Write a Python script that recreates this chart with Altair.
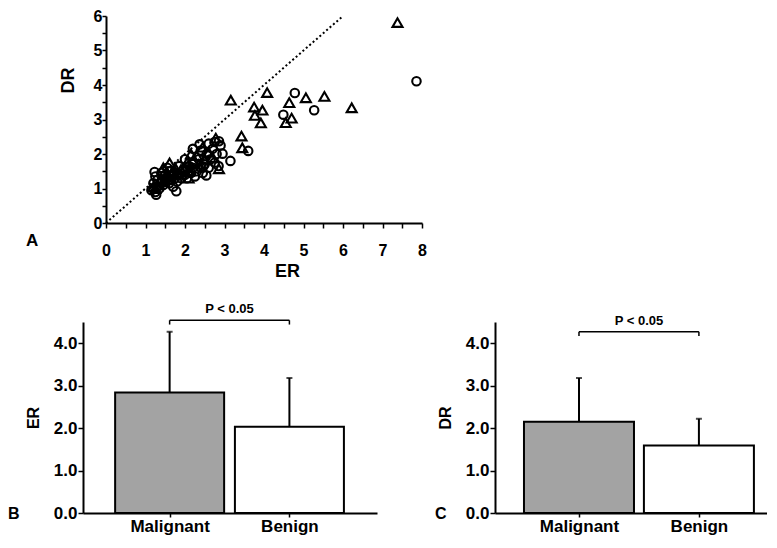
import altair as alt
import pandas as pd

FONT = "Liberation Sans"

# ---------------- Panel A data (ER vs DR) ----------------
mal_er = [7.38, 3.16, 4.08, 5.06, 5.53, 3.75, 3.96, 3.77, 3.92, 4.64, 4.70, 4.55, 6.22,
          3.43, 3.45, 2.78, 2.86, 2.09, 1.61,
          1.25, 1.30, 1.35, 1.40, 1.50, 1.55, 1.60, 1.70, 1.75, 1.80, 1.90, 2.00,
          2.05, 2.10, 2.20, 2.30, 2.35, 2.50, 2.60, 2.70, 1.45, 1.20, 2.15, 2.45]
mal_dr = [5.81, 3.56, 3.78, 3.63, 3.67, 3.36, 3.27, 3.12, 2.90, 3.49, 3.04, 2.91, 3.34,
          2.52, 2.18, 2.46, 1.57, 1.30, 1.74,
          1.00, 1.10, 1.20, 1.30, 1.25, 1.45, 1.35, 1.50, 1.60, 1.45, 1.55, 1.60,
          1.75, 1.50, 1.80, 1.95, 1.70, 1.85, 2.05, 1.90, 1.60, 1.05, 2.00, 2.20]

ben_er = [7.86, 4.78, 5.27, 4.49, 3.60, 3.15, 2.86, 2.37, 1.78, 1.23, 1.27, 2.54, 2.46, 2.95,
          1.15, 1.20, 1.25, 1.30, 1.20, 1.35, 1.40, 1.30, 1.45, 1.50,
          1.55, 1.60, 1.65, 1.70, 1.60, 1.75, 1.80, 1.85, 1.90, 1.95,
          2.00, 1.70, 1.50, 1.40, 1.25, 2.05, 2.10, 2.15, 2.20, 2.25,
          2.30, 2.35, 2.40, 2.45, 2.50, 2.55, 2.60, 2.65, 2.70, 2.75,
          2.80, 2.85, 2.90, 2.40, 2.20, 2.60, 2.00, 1.85, 1.55, 2.75]
ben_dr = [4.11, 3.77, 3.27, 3.14, 2.09, 1.80, 2.37, 2.28, 0.92, 1.48, 0.82, 1.38, 1.64, 2.01,
          0.95, 1.00, 0.90, 1.05, 1.15, 1.00, 1.15, 1.25, 1.10, 1.20,
          1.30, 1.15, 1.25, 1.40, 1.50, 1.30, 1.20, 1.40, 1.30, 1.50,
          1.40, 1.05, 1.40, 1.45, 1.35, 1.30, 1.65, 1.45, 1.60, 1.35,
          1.50, 1.85, 1.60, 1.45, 1.70, 2.00, 1.60, 1.85, 2.15, 1.75,
          2.00, 1.65, 2.25, 2.10, 2.15, 2.30, 1.85, 1.65, 1.60, 2.35]

legend_labels = ["Malignant (n = 43)", "Benign (n = 64)"]
identity_ends = [0, 6]

# ---------------- Panels B / C data ----------------
groups = ["Malignant", "Benign"]
group_idx = [0, 1]
er_mean = [2.84, 2.03]
er_upper = [4.27, 3.18]
dr_mean = [2.15, 1.59]
dr_upper = [3.18, 2.22]
er_bracket = 4.54
dr_bracket = 4.27
p_text = "P < 0.05"

bar_fills = ["#a3a3a3", "white"]

axis_style = dict(domainColor="black", domainWidth=2, tickColor="black", tickWidth=1.5,
                  grid=False, labelFont=FONT, labelFontWeight="bold", labelColor="black",
                  titleFont=FONT, titleFontWeight="bold", titleColor="black",
                  labelFlush=False, labelOverlap=False)

# ---------------- Panel A ----------------
scat_df = pd.DataFrame({
    "ER": mal_er + ben_er,
    "DR": mal_dr + ben_dr,
    "group": [legend_labels[0]] * len(mal_er) + [legend_labels[1]] * len(ben_er),
})
diag_df = pd.DataFrame({"ER": identity_ends, "DR": identity_ends})

x_vals = [i * 0.5 for i in range(17)]
y_vals = [i * 0.5 for i in range(13)]
int_only = "datum.value % 1 === 0 ? format(datum.value, 'd') : ''"

xs = alt.Scale(domain=[0, 8], nice=False)
ys = alt.Scale(domain=[0, 6], nice=False)

x_enc = alt.X("ER:Q", scale=xs, axis=alt.Axis(title="ER", values=x_vals, labelExpr=int_only,
              tickSize=5, labelPadding=14, labelFontSize=16, titleFontSize=18,
              titlePadding=4, titleX=181, **axis_style))
y_enc = alt.Y("DR:Q", scale=ys, axis=alt.Axis(title="DR", values=y_vals, labelExpr=int_only,
              tickSize=4, labelPadding=0, labelFontSize=16, titleFontSize=18,
              titlePadding=16, titleY=64, **axis_style))

diag = alt.Chart(diag_df).mark_line(color="black", strokeDash=[2, 2.5], strokeWidth=2).encode(
    x=x_enc, y=y_enc)

points = alt.Chart(scat_df).mark_point(filled=False, color="black", strokeWidth=2.1,
                                       opacity=1).encode(
    x=x_enc, y=y_enc,
    shape=alt.Shape("group:N",
                    scale=alt.Scale(domain=legend_labels, range=["triangle-up", "circle"]),
                    legend=alt.Legend(title=None, orient="none", legendX=392, legendY=62,
                                      labelFont=FONT, labelFontWeight="bold", labelFontSize=13.5,
                                      labelColor="black", symbolSize=70, symbolStrokeWidth=1.8,
                                      symbolStrokeColor="black", symbolFillColor="transparent",
                                      rowPadding=12, labelOffset=10, padding=0)),
    size=alt.Size("group:N", scale=alt.Scale(domain=legend_labels, range=[100, 72]),
                  legend=None),
)

label_a = alt.Chart(pd.DataFrame({"t": ["A"]})).mark_text(
    font=FONT, fontWeight="bold", fontSize=17, align="left", baseline="alphabetic",
    color="black").encode(text="t:N", x=alt.value(-80), y=alt.value(230))

panel_a = alt.layer(diag, points, label_a).properties(width=316, height=207)

spacer = alt.Chart(pd.DataFrame({"v": [0]})).mark_text().encode(
    x=alt.value(0), y=alt.value(0), text=alt.value("")).properties(width=23, height=10)


# ---------------- Panels B / C ----------------
def bar_panel(title, means, uppers, bracket_y, letter, width, x_domain, bar_w, letter_x):
    df = pd.DataFrame({"idx": group_idx, "group": groups, "mean": means, "upper": uppers})
    label_expr = "[" + ",".join("'%s'" % g for g in groups) + "][datum.value]"
    xsc = alt.Scale(domain=x_domain, nice=False, zero=False)
    ysc = alt.Scale(domain=[0, 4.5], nice=False)
    xe = alt.X("idx:Q", scale=xsc,
               axis=alt.Axis(title=None, values=group_idx, labelExpr=label_expr, labelAngle=0,
                             tickSize=4, labelPadding=1, labelFontSize=17, **axis_style))
    ye = alt.Y("mean:Q", scale=ysc, stack=None,
               axis=alt.Axis(title=title, values=[i * 0.5 for i in range(9)],
                             labelExpr="datum.value % 1 === 0 ? format(datum.value, '.1f') : ''",
                             tickSize=5, labelPadding=1, labelFontSize=17, titleFontSize=16,
                             titlePadding=12, **axis_style))
    err = alt.Chart(df).mark_rule(color="black", strokeWidth=2).encode(
        x=xe, y=ye, y2="upper:Q")
    cap = alt.Chart(df).mark_tick(color="black", thickness=2, size=6,
                                  orient="horizontal").encode(x=xe, y="upper:Q")
    bars = alt.Chart(df).mark_bar(stroke="black", strokeWidth=2, size=bar_w,
                                  orient="vertical").encode(
        x=xe, y=ye,
        fill=alt.Fill("group:N", scale=alt.Scale(domain=groups, range=bar_fills), legend=None))
    br_df = pd.DataFrame({"idx": [group_idx[0]], "idx2": [group_idx[1]], "y": [bracket_y],
                          "mid": [sum(group_idx) / 2]})
    br_h = alt.Chart(br_df).mark_rule(color="black", strokeWidth=1.5).encode(
        x=xe, x2="idx2:Q", y="y:Q")
    ends_df = pd.DataFrame({"idx": group_idx, "y": [bracket_y] * 2,
                            "y2": [bracket_y - 0.1] * 2})
    br_v = alt.Chart(ends_df).mark_rule(color="black", strokeWidth=1.5).encode(
        x=xe, y="y:Q", y2="y2:Q")
    ptxt = alt.Chart(br_df).mark_text(font=FONT, fontWeight="bold", fontSize=13,
                                      baseline="bottom", dy=-4, color="black").encode(
        x=alt.X("mid:Q", scale=xsc), y="y:Q", text=alt.value(p_text))
    letter_t = alt.Chart(pd.DataFrame({"t": [letter]})).mark_text(
        font=FONT, fontWeight="bold", fontSize=16, align="left", baseline="alphabetic",
        color="black").encode(text="t:N", x=alt.value(letter_x), y=alt.value(197))
    return alt.layer(err, cap, bars, br_h, br_v, ptxt, letter_t).properties(
        width=width, height=191)


panel_b = bar_panel("ER", er_mean, er_upper, er_bracket, "B", 294, [-0.6815, 1.6895], 109, -75)
panel_c = bar_panel("DR", dr_mean, dr_upper, dr_bracket, "C", 272, [-0.6586, 1.5261], 110, -60)

top = alt.hconcat(spacer, panel_a, spacing=0, bounds="flush")
bottom = alt.hconcat(panel_b, panel_c, spacing=118, bounds="flush")

chart = alt.vconcat(top, bottom, spacing=306, bounds="flush").properties(
    padding={"left": 0, "top": 0, "right": 0, "bottom": 3}, background="white"
).configure_view(stroke=None)

chart.save("out.html", embed_options={"renderer": "svg", "actions": False})
